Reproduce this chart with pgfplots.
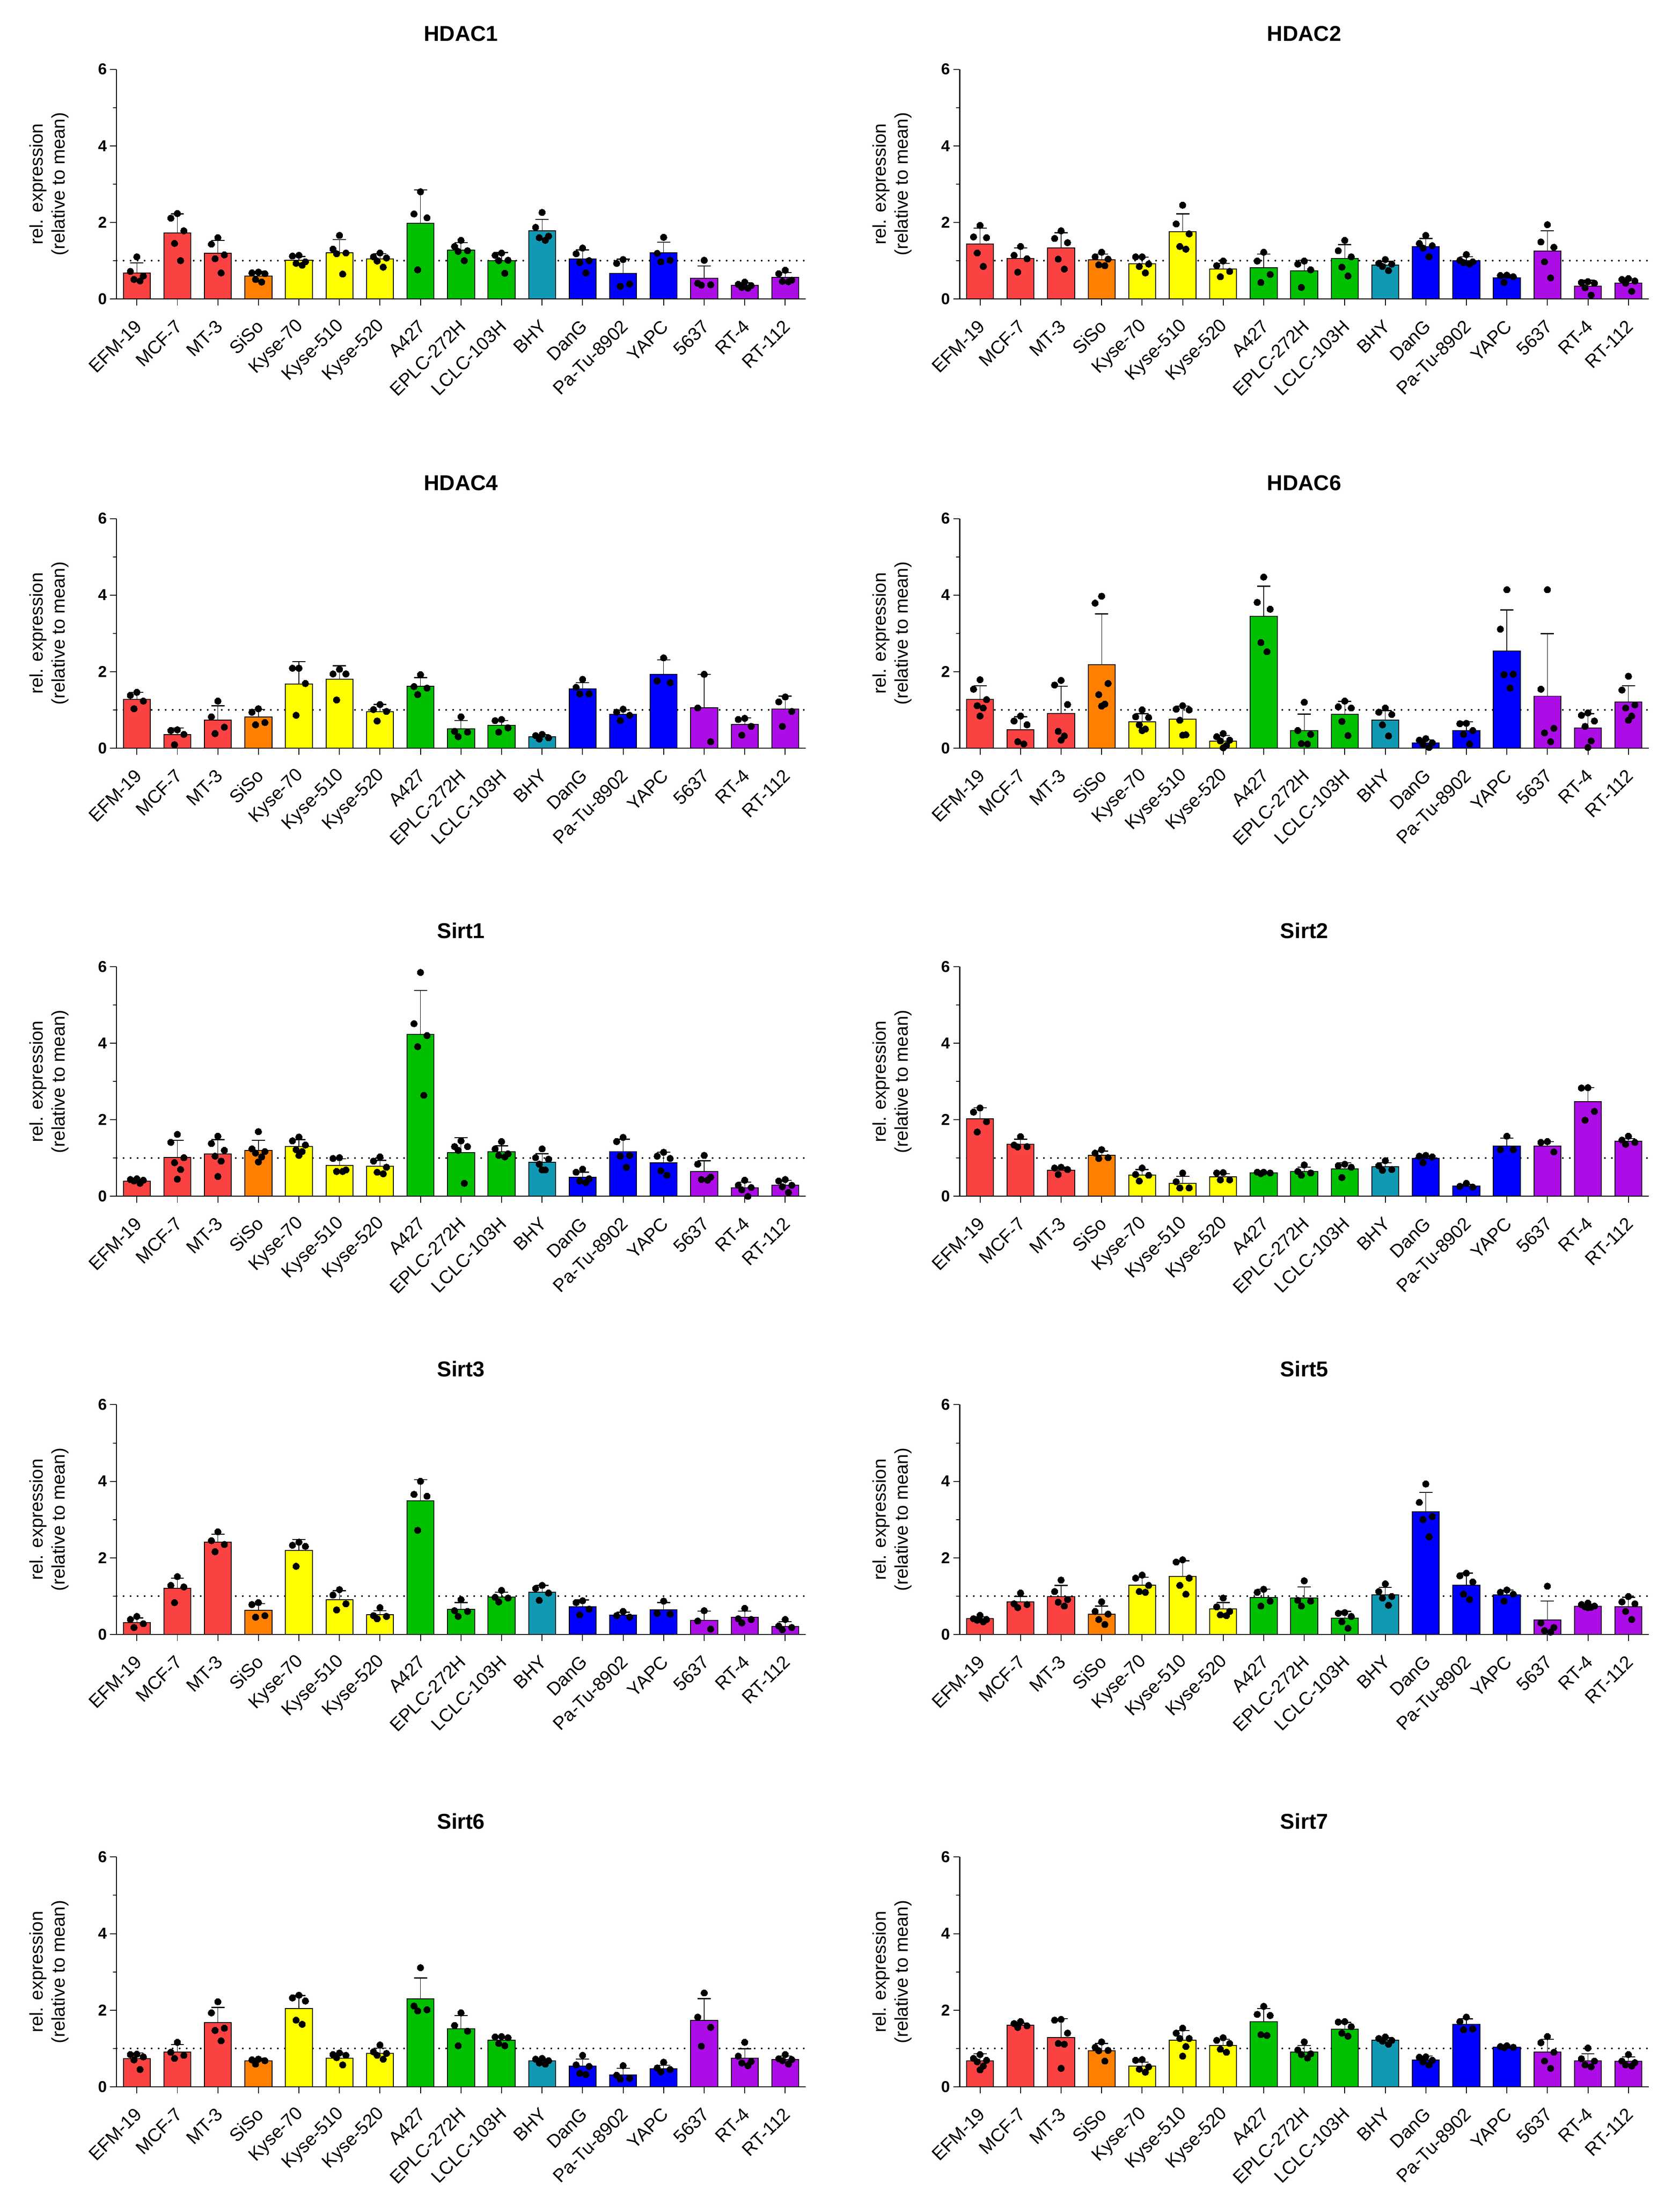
\documentclass[border=0pt]{standalone}
\usepackage{pgfplots}
\pgfplotsset{compat=1.18}
\usepackage{pgfplotstable}
\usepackage{fontspec}
\setmainfont{Liberation Sans}

\definecolor{cRed}{RGB}{250,66,66}
\definecolor{cOrange}{RGB}{255,128,0}
\definecolor{cYellow}{RGB}{255,255,0}
\definecolor{cGreen}{RGB}{0,192,0}
\definecolor{cTeal}{RGB}{17,153,180}
\definecolor{cBlue}{RGB}{0,0,255}
\definecolor{cPurple}{RGB}{172,12,230}

\pgfplotstableread{
b m e d1 d2 d3 d4 d5 d6
0 0.68 0.26 1.10 0.72 0.60 0.51 0.47 nan
1 1.72 0.50 2.23 2.11 1.78 1.45 1.00 nan
2 1.19 0.34 1.60 1.43 1.15 1.05 0.68 nan
3 0.60 0.12 0.70 0.68 0.66 0.51 0.44 nan
4 1.01 0.10 1.14 1.12 0.97 0.93 0.88 nan
5 1.20 0.35 1.66 1.30 1.20 1.18 0.65 nan
6 1.04 0.14 1.20 1.10 1.07 0.99 0.83 nan
7 1.98 0.87 2.80 2.22 2.12 0.76 nan nan
8 1.28 0.19 1.53 1.37 1.26 1.24 1.00 nan
9 1.00 0.21 1.20 1.14 1.01 1.00 0.67 nan
10 1.78 0.30 2.26 1.87 1.64 1.60 1.53 nan
11 1.04 0.24 1.33 1.18 1.00 0.95 0.68 nan
12 0.67 0.37 1.03 0.93 0.39 0.33 nan nan
13 1.20 0.28 1.61 1.19 1.01 0.97 nan nan
14 0.54 0.32 1.01 0.41 0.37 0.36 nan nan
15 0.36 0.06 0.44 0.38 0.35 0.30 0.28 nan
16 0.56 0.13 0.75 0.66 0.49 0.46 0.45 nan
}\tA

\pgfplotstableread{
b m e d1 d2 d3 d4 d5 d6
0 1.44 0.41 1.92 1.62 1.60 1.20 0.85 nan
1 1.06 0.27 1.37 1.14 1.05 0.70 nan nan
2 1.33 0.40 1.78 1.58 1.47 1.04 0.78 nan
3 1.02 0.15 1.22 1.10 1.04 0.89 0.87 nan
4 0.92 0.17 1.10 1.10 0.91 0.85 0.68 nan
5 1.76 0.46 2.45 1.96 1.70 1.37 1.30 nan
6 0.78 0.15 0.99 0.87 0.72 0.58 nan nan
7 0.82 0.35 1.22 0.99 0.64 0.43 nan nan
8 0.73 0.28 0.99 0.91 0.76 0.30 nan nan
9 1.06 0.36 1.53 1.26 1.10 0.83 0.60 nan
10 0.88 0.10 1.03 0.93 0.91 0.85 0.74 nan
11 1.37 0.21 1.66 1.45 1.39 1.33 1.10 nan
12 1.00 0.10 1.16 1.01 0.97 0.95 0.91 nan
13 0.55 0.08 0.62 0.61 0.58 0.43 nan nan
14 1.25 0.53 1.94 1.49 1.35 0.97 0.55 nan
15 0.33 0.16 0.45 0.43 0.41 0.29 0.10 nan
16 0.41 0.12 0.53 0.51 0.47 0.41 0.20 nan
}\tB

\pgfplotstableread{
b m e d1 d2 d3 d4 d5 d6
0 1.27 0.19 1.46 1.38 1.23 1.03 nan nan
1 0.35 0.18 0.48 0.46 0.36 0.09 nan nan
2 0.73 0.38 1.23 0.82 0.55 0.38 nan nan
3 0.81 0.20 1.03 0.94 0.67 0.61 nan nan
4 1.68 0.58 2.09 2.09 1.69 0.86 nan nan
5 1.80 0.35 2.06 1.94 1.94 1.26 nan nan
6 0.95 0.19 1.14 1.01 0.96 0.71 nan nan
7 1.62 0.22 1.92 1.61 1.57 1.40 nan nan
8 0.50 0.22 0.82 0.44 0.42 0.30 nan nan
9 0.60 0.12 0.75 0.72 0.53 0.42 nan nan
10 0.30 0.05 0.36 0.33 0.27 0.24 nan nan
11 1.55 0.16 1.80 1.59 1.42 1.42 nan nan
12 0.88 0.12 1.02 0.94 0.86 0.72 nan nan
13 1.93 0.38 2.36 1.76 1.71 nan nan nan
14 1.06 0.87 1.93 1.05 0.17 nan nan nan
15 0.62 0.17 0.78 0.75 0.57 0.34 nan nan
16 1.02 0.34 1.34 1.21 0.96 0.57 nan nan
}\tC

\pgfplotstableread{
b m e d1 d2 d3 d4 d5 d6
0 1.27 0.36 1.79 1.54 1.27 1.11 1.05 0.84
1 0.48 0.34 0.84 0.71 0.61 0.17 0.11 nan
2 0.91 0.71 1.77 1.65 1.14 0.44 0.32 0.21
3 2.18 1.33 3.97 3.79 1.69 1.40 1.15 1.10
4 0.69 0.21 1.00 0.82 0.80 0.61 0.50 0.46
5 0.76 0.34 1.11 1.02 1.00 0.73 0.35 0.34
6 0.18 0.15 0.38 0.30 0.21 0.19 0.07 0.01
7 3.44 0.79 4.47 3.81 3.63 2.76 2.52 nan
8 0.46 0.43 1.20 0.46 0.36 0.12 0.11 nan
9 0.88 0.34 1.23 1.08 1.05 0.70 0.33 nan
10 0.73 0.25 1.05 0.94 0.88 0.61 0.32 nan
11 0.14 0.08 0.25 0.21 0.14 0.10 0.02 nan
12 0.46 0.23 0.65 0.64 0.46 0.36 0.11 nan
13 2.54 1.07 4.14 3.11 1.93 1.92 1.57 nan
14 1.36 1.63 4.14 1.54 0.52 0.40 0.17 nan
15 0.53 0.37 0.92 0.86 0.71 0.57 0.19 0.02
16 1.20 0.43 1.88 1.52 1.13 1.05 0.84 0.73
}\tD

\pgfplotstableread{
b m e d1 d2 d3 d4 d5 d6
0 0.40 0.04 0.46 0.44 0.42 0.40 0.34 nan
1 1.02 0.44 1.62 1.41 1.01 0.88 0.70 0.45
2 1.11 0.37 1.57 1.38 1.20 1.05 0.92 0.52
3 1.20 0.26 1.69 1.24 1.17 1.13 1.03 0.90
4 1.30 0.18 1.55 1.45 1.34 1.22 1.17 1.07
5 0.81 0.17 1.01 0.99 0.69 0.65 0.65 nan
6 0.78 0.16 1.03 0.92 0.76 0.63 0.59 nan
7 4.23 1.15 5.85 4.51 4.20 3.91 2.64 nan
8 1.14 0.39 1.45 1.30 1.30 1.20 0.34 nan
9 1.16 0.16 1.43 1.24 1.11 1.07 1.03 nan
10 0.89 0.22 1.24 1.01 0.97 0.84 0.69 0.69
11 0.50 0.13 0.71 0.63 0.46 0.40 0.36 nan
12 1.17 0.32 1.54 1.43 1.07 1.05 0.76 nan
13 0.88 0.27 1.15 1.05 0.99 0.67 0.55 nan
14 0.65 0.28 1.07 0.84 0.50 0.44 0.42 nan
15 0.22 0.15 0.42 0.29 0.23 0.17 0.00 nan
16 0.29 0.13 0.44 0.40 0.29 0.25 0.10 nan
}\tE

\pgfplotstableread{
b m e d1 d2 d3 d4 d5 d6
0 2.02 0.29 2.31 2.20 1.95 1.68 nan nan
1 1.36 0.13 1.56 1.34 1.30 1.29 nan nan
2 0.68 0.08 0.76 0.74 0.70 0.57 nan nan
3 1.07 0.11 1.22 1.13 1.01 0.99 nan nan
4 0.55 0.15 0.74 0.57 0.55 0.40 nan nan
5 0.34 0.18 0.61 0.38 0.22 0.22 nan nan
6 0.51 0.08 0.62 0.61 0.43 0.43 nan nan
7 0.61 0.03 0.63 0.63 0.61 0.59 nan nan
8 0.65 0.11 0.82 0.65 0.61 0.55 nan nan
9 0.72 0.16 0.84 0.80 0.76 0.49 nan nan
10 0.77 0.11 0.93 0.80 0.70 0.68 nan nan
11 0.99 0.06 1.07 1.05 1.03 0.88 nan nan
12 0.27 0.04 0.34 0.26 0.24 nan nan nan
13 1.31 0.21 1.57 1.22 1.22 nan nan nan
14 1.31 0.12 1.43 1.41 1.16 nan nan nan
15 2.47 0.37 2.84 2.83 2.22 1.99 nan nan
16 1.44 0.07 1.57 1.47 1.41 1.36 nan nan
}\tF

\pgfplotstableread{
b m e d1 d2 d3 d4 d5 d6
0 0.31 0.12 0.47 0.39 0.28 0.18 nan nan
1 1.20 0.27 1.51 1.28 1.24 0.83 nan nan
2 2.41 0.21 2.68 2.45 2.35 2.16 nan nan
3 0.63 0.17 0.83 0.78 0.49 0.45 nan nan
4 2.19 0.29 2.41 2.33 2.30 1.78 nan nan
5 0.91 0.23 1.17 1.03 0.80 0.64 nan nan
6 0.52 0.10 0.70 0.49 0.47 0.41 nan nan
7 3.49 0.55 4.00 3.66 3.61 2.72 nan nan
8 0.65 0.18 0.91 0.62 0.60 0.47 nan nan
9 0.97 0.13 1.15 0.97 0.95 0.85 nan nan
10 1.10 0.18 1.28 1.20 1.08 0.89 nan nan
11 0.72 0.18 0.88 0.83 0.66 0.51 nan nan
12 0.50 0.08 0.60 0.49 0.45 nan nan nan
13 0.64 0.19 0.87 0.55 0.53 nan nan nan
14 0.37 0.24 0.62 0.35 0.14 nan nan nan
15 0.45 0.16 0.68 0.41 0.39 0.30 nan nan
16 0.21 0.12 0.39 0.22 0.18 0.12 nan nan
}\tG

\pgfplotstableread{
b m e d1 d2 d3 d4 d5 d6
0 0.41 0.05 0.50 0.41 0.39 0.37 0.33 nan
1 0.85 0.14 1.08 0.80 0.78 0.70 nan nan
2 0.99 0.29 1.42 1.12 0.91 0.84 0.74 nan
3 0.53 0.21 0.85 0.60 0.53 0.39 0.26 nan
4 1.29 0.20 1.55 1.47 1.28 1.12 1.10 nan
5 1.52 0.40 1.95 1.89 1.47 1.28 1.05 nan
6 0.66 0.17 0.95 0.72 0.60 0.51 0.49 nan
7 0.96 0.22 1.18 1.10 0.87 0.74 nan nan
8 0.95 0.29 1.40 0.89 0.87 0.74 nan nan
9 0.42 0.18 0.57 0.55 0.47 0.33 0.16 nan
10 1.03 0.20 1.32 1.12 0.99 0.95 0.76 nan
11 3.20 0.51 3.93 3.45 3.08 3.00 2.55 nan
12 1.28 0.32 1.60 1.53 1.37 1.05 0.91 nan
13 1.03 0.13 1.16 1.10 1.05 0.87 nan nan
14 0.38 0.49 1.26 0.30 0.18 0.10 0.06 nan
15 0.73 0.04 0.82 0.78 0.74 0.72 0.71 0.70
16 0.72 0.25 0.99 0.85 0.80 0.60 0.39 nan
}\tH

\pgfplotstableread{
b m e d1 d2 d3 d4 d5 d6
0 0.73 0.15 0.85 0.84 0.78 0.70 0.45 nan
1 0.90 0.20 1.16 0.90 0.82 0.74 nan nan
2 1.67 0.40 2.22 1.93 1.53 1.47 1.20 nan
3 0.67 0.07 0.72 0.70 0.68 0.59 nan nan
4 2.04 0.34 2.39 2.32 2.24 1.74 1.63 nan
5 0.75 0.13 0.88 0.84 0.82 0.76 0.57 nan
6 0.87 0.14 1.09 0.91 0.87 0.82 0.72 nan
7 2.29 0.55 3.11 2.11 2.01 1.98 nan nan
8 1.51 0.35 1.93 1.60 1.45 1.07 nan nan
9 1.22 0.10 1.31 1.30 1.28 1.13 1.07 nan
10 0.68 0.05 0.74 0.72 0.68 0.62 0.59 nan
11 0.54 0.18 0.82 0.57 0.53 0.35 0.32 nan
12 0.31 0.17 0.55 0.30 0.22 0.20 nan nan
13 0.47 0.09 0.64 0.49 0.45 0.39 nan nan
14 1.73 0.57 2.45 1.82 1.55 1.06 nan nan
15 0.75 0.24 1.16 0.80 0.66 0.62 0.55 nan
16 0.71 0.09 0.84 0.73 0.71 0.68 0.59 nan
}\tI

\pgfplotstableread{
b m e d1 d2 d3 d4 d5 d6
0 0.68 0.18 0.84 0.74 0.69 0.65 0.54 0.44
1 1.61 0.05 1.70 1.65 1.59 1.55 nan nan
2 1.28 0.50 1.76 1.74 1.40 1.13 1.11 0.48
3 0.94 0.19 1.17 1.03 0.95 0.94 0.67 nan
4 0.54 0.10 0.71 0.69 0.52 0.46 0.38 nan
5 1.21 0.26 1.53 1.40 1.26 1.26 1.05 0.80
6 1.08 0.16 1.28 1.21 1.13 0.98 0.90 nan
7 1.70 0.34 2.10 1.89 1.86 1.36 1.34 nan
8 0.91 0.17 1.17 0.96 0.86 0.84 0.75 nan
9 1.50 0.18 1.70 1.69 1.57 1.40 1.32 nan
10 1.21 0.07 1.30 1.26 1.21 1.19 1.11 nan
11 0.70 0.10 0.78 0.77 0.69 0.65 0.57 nan
12 1.63 0.14 1.82 1.70 1.51 1.49 nan nan
13 1.03 0.03 1.07 1.05 1.03 1.02 nan nan
14 0.90 0.34 1.31 1.15 0.90 0.67 0.48 nan
15 0.68 0.18 1.01 0.73 0.67 0.57 0.52 nan
16 0.66 0.12 0.84 0.67 0.63 0.57 0.54 nan
}\tJ

\pgfplotsset{
  panel/.style={
    scale only axis, width=314.4pt, height=104.8pt,
    anchor=south west,
    xmin=-0.5, xmax=16.5, ymin=0, ymax=6,
    axis x line=bottom, axis y line=left,
    axis line style={-, line width=0.45pt, black},
    xtick={0,...,16},
    xticklabels={EFM-19,MCF-7,MT-3,SiSo,Kyse-70,Kyse-510,Kyse-520,A427,EPLC-272H,LCLC-103H,BHY,DanG,Pa-Tu-8902,YAPC,5637,RT-4,RT-112},
    ytick={0,2,4,6}, minor ytick={1,3,5},
    tick align=outside, major tick length=3pt, minor tick length=1.6pt,
    every tick/.style={black, line width=0.4pt},
    /pgf/number format/assume math mode=true,
    xticklabel style={font=\fontsize{8.4}{10}\selectfont, xshift=0.8pt, yshift=-8pt, rotate=45, anchor=east, inner sep=0pt},
    yticklabel style={font=\fontsize{7.2}{8}\selectfont\bfseries, inner sep=0pt, xshift=-1.2pt},
    ylabel={rel. expression\\(relative to mean)},
    ylabel style={at={(axis description cs:-0.098,0.5)}, anchor=center, align=center, font=\fontsize{8.4}{10}\selectfont},
    title style={at={(axis description cs:0.5,1)}, anchor=base, yshift=6.9pt, font=\fontsize{9.8}{11}\selectfont\bfseries},
    clip=false,
  },
  dotline/.style={black, line width=0.8pt, dash pattern=on 0pt off 3.2pt, line cap=round},
  barsty/.style={ybar, bar width=12.3pt, bar shift=0pt, draw=black, line width=0.4pt,
    /pgfplots/error bars/y dir=plus, /pgfplots/error bars/y explicit,
    /pgfplots/error bars/error bar style={line width=0.25pt, black},
    /pgfplots/error bars/error mark options={rotate=90, line width=0.5pt, mark size=3pt, black}},
}

\newcommand\grp[3]{\addplot[barsty, fill=#2, restrict x to domain=#3] table[x=b, y=m, y error=e]{#1};}
\newcommand\dts[3]{\addplot[only marks, mark=*, mark size=1.5pt, black, mark options={fill=black, draw=black, line width=0pt}] table[x expr=\thisrow{b}#3, y=#2]{#1};}

\newcommand\panel[3]{%
\begin{axis}[panel, at={#1}, title={#3}]
\addplot[dotline] coordinates {(-0.5,1) (16.5,1)};
\grp{#2}{cRed}{-0.2:2.2}
\grp{#2}{cOrange}{2.8:3.2}
\grp{#2}{cYellow}{3.8:6.2}
\grp{#2}{cGreen}{6.8:9.2}
\grp{#2}{cTeal}{9.8:10.2}
\grp{#2}{cBlue}{10.8:13.2}
\grp{#2}{cPurple}{13.8:16.2}
\dts{#2}{d1}{+0}
\dts{#2}{d2}{-0.16}
\dts{#2}{d3}{+0.16}
\dts{#2}{d4}{-0.07}
\dts{#2}{d5}{+0.08}
\dts{#2}{d6}{+0}
\end{axis}}

\begin{document}
\begin{tikzpicture}
\path[use as bounding box] (0,0) rectangle (766.6pt,-1003pt);
\panel{(53.2pt,-136.4pt)}{\tA}{HDAC1}
\panel{(438pt,-136.4pt)}{\tB}{HDAC2}
\panel{(53.2pt,-341.4pt)}{\tC}{HDAC4}
\panel{(438pt,-341.4pt)}{\tD}{HDAC6}
\panel{(53.2pt,-545.9pt)}{\tE}{Sirt1}
\panel{(438pt,-545.9pt)}{\tF}{Sirt2}
\panel{(53.2pt,-745.8pt)}{\tG}{Sirt3}
\panel{(438pt,-745.8pt)}{\tH}{Sirt5}
\panel{(53.2pt,-952.2pt)}{\tI}{Sirt6}
\panel{(438pt,-952.2pt)}{\tJ}{Sirt7}
\end{tikzpicture}
\end{document}
